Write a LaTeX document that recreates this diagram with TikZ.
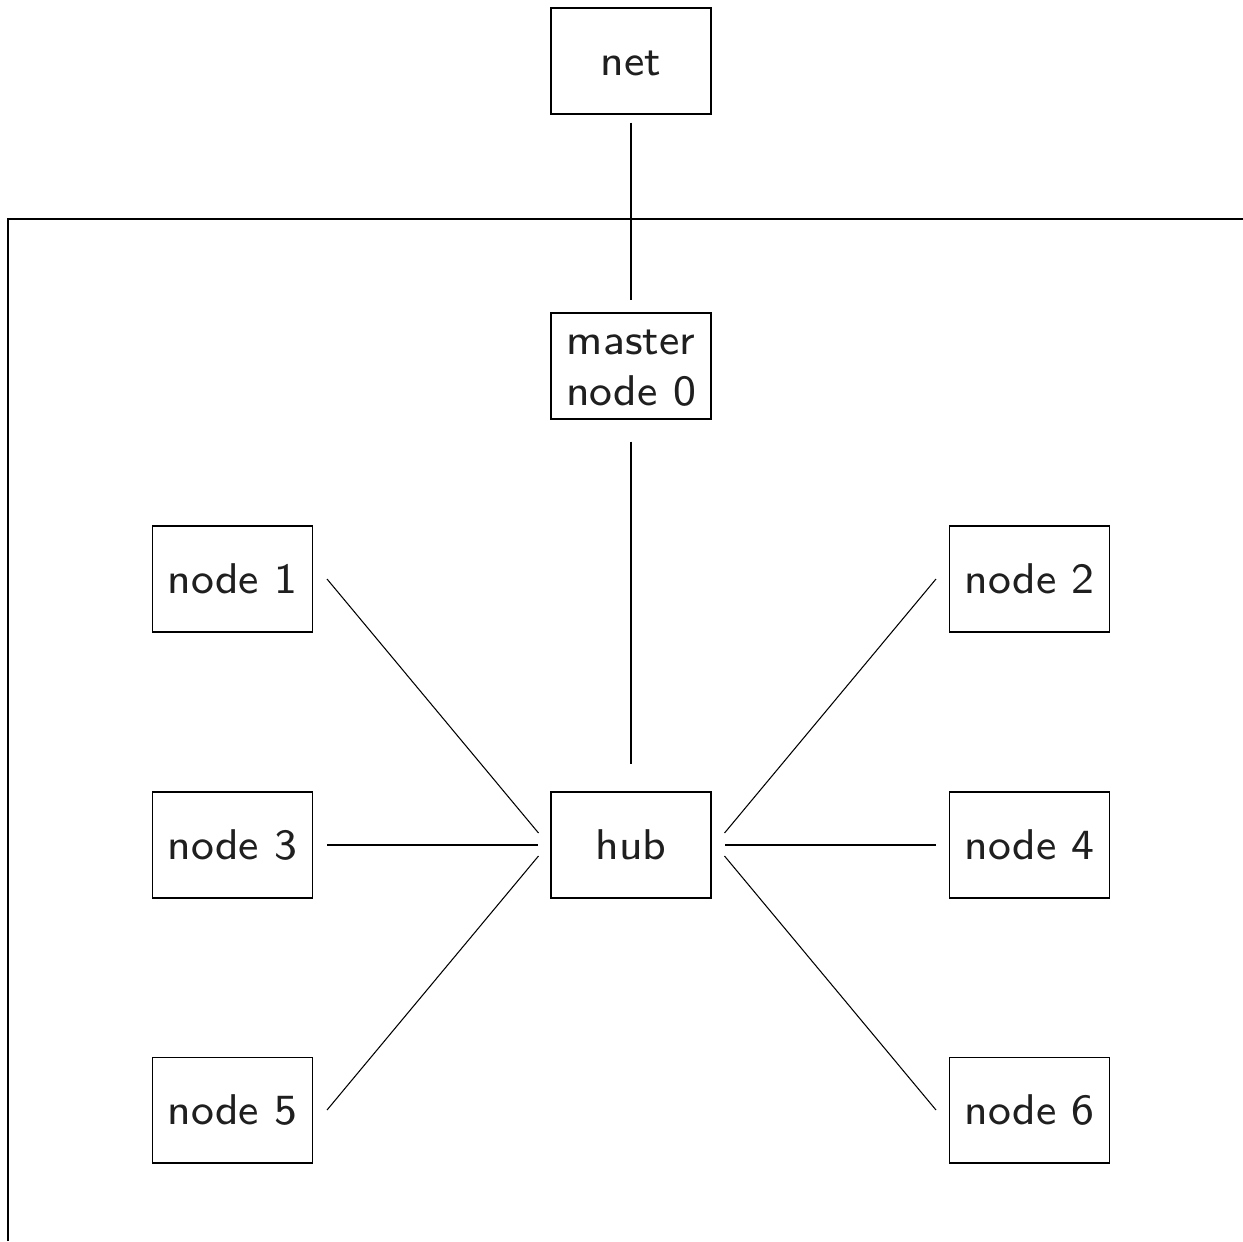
\documentclass[tikz,border=0pt]{standalone}
\usetikzlibrary{calc}
\newcommand{\boxtext}[1]{\scalebox{3.06}{\fontsize{8}{9.4}\selectfont\sffamily\raisebox{-0.75pt}[\height][\depth]{\begin{tabular}{@{}c@{}}#1\end{tabular}}}}
\begin{document}
\begin{tikzpicture}[x=0.02cm,y=-0.02cm,
  box/.style={draw, line width=0.6pt, minimum width=3.2cm, minimum height=2.12cm, inner sep=0pt, align=center, text=black!88},
  link/.style={line width=0.6pt}]
\useasboundingbox (0,0) rectangle (1243,1241);
\draw[line width=0.9pt] (8,1241) -- (8,219) -- (1243,219);
\node[box] (net) at (631,61) {\boxtext{net}};
\node[box] (master) at (631,366) {\boxtext{master\\node 0}};
\node[box] (hub) at (631,845) {\boxtext{hub}};
\node[box] (n1) at (232.5,579) {\boxtext{node 1}};
\node[box] (n3) at (232.5,845) {\boxtext{node 3}};
\node[box] (n5) at (232.5,1110) {\boxtext{node 5}};
\node[box] (n2) at (1029.5,579) {\boxtext{node 2}};
\node[box] (n4) at (1029.5,845) {\boxtext{node 4}};
\node[box] (n6) at (1029.5,1110) {\boxtext{node 6}};
\draw[link] ($(net.south)+(0,8)$) -- ($(master.north)+(0,-12)$);
\draw[link] ($(master.south)+(0,22)$) -- ($(hub.north)+(0,-27)$);
\draw[link] ($(n1.east)+(14,0)$) -- ($(hub.west)+(-12,-12)$);
\draw[link] ($(n3.east)+(14,0)$) -- ($(hub.west)+(-12,0)$);
\draw[link] ($(n5.east)+(14,0)$) -- ($(hub.west)+(-12,11)$);
\draw[link] ($(n2.west)+(-13,0)$) -- ($(hub.east)+(13,-12)$);
\draw[link] ($(n4.west)+(-13,0)$) -- ($(hub.east)+(13,0)$);
\draw[link] ($(n6.west)+(-13,0)$) -- ($(hub.east)+(13,11)$);
\end{tikzpicture}
\end{document}
